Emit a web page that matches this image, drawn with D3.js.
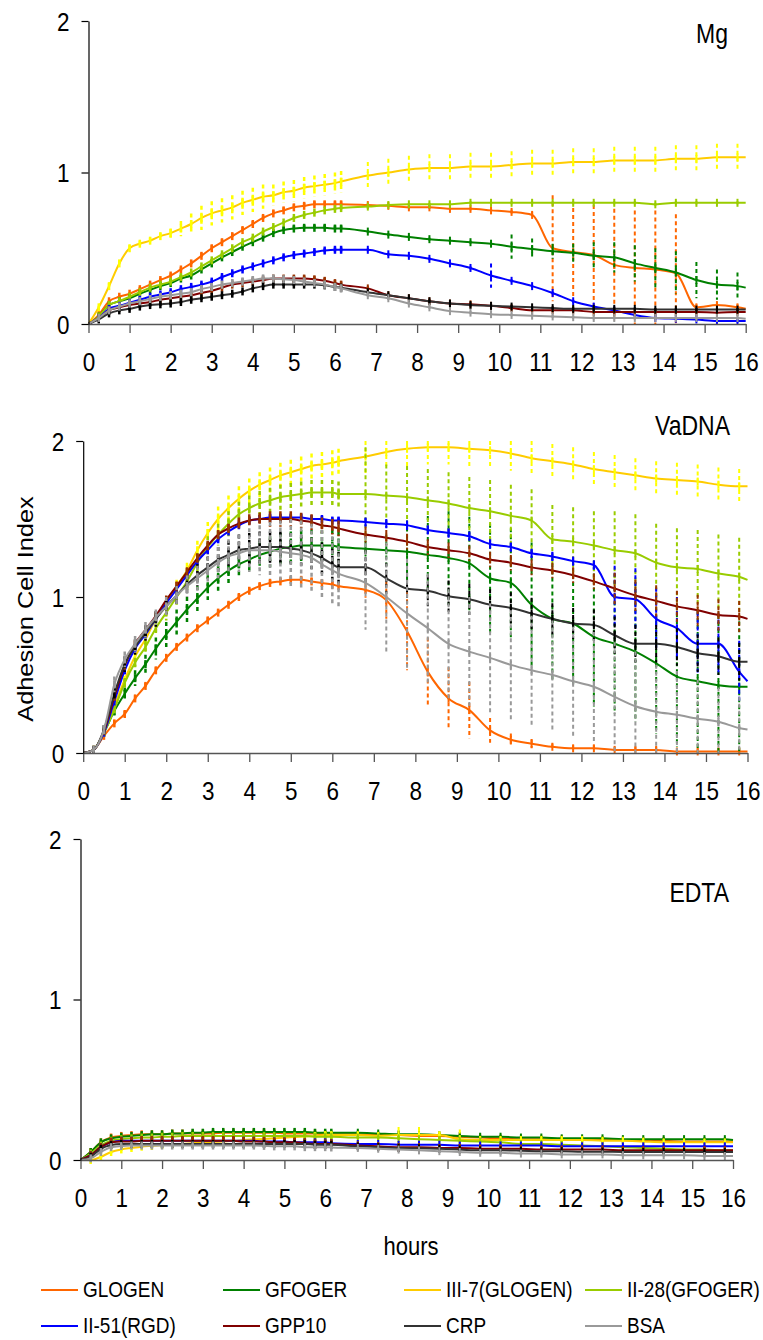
<!DOCTYPE html>
<html>
<head>
<meta charset="utf-8">
<script src="https://cdn.jsdelivr.net/npm/d3@7/dist/d3.min.js"></script>
<style>
  body { margin: 0; background: #fff; }
  text { font-family: "Liberation Sans", Arial, sans-serif; fill: #000; }
</style>
</head>
<body>
<div id="chart"></div>
<script>
// time points (hours): dense readings up to ~6 h, then every 0.5 h
var hours = [0, 0.25, 0.5, 0.75, 1, 1.25, 1.5, 1.75, 2, 2.25, 2.5, 2.75, 3, 3.25, 3.5, 3.75,
  4, 4.25, 4.5, 4.75, 5, 5.25, 5.5, 5.75, 6, 6.15,
  6.8, 7.3, 7.8, 8.3, 8.8, 9.3, 9.8, 10.3, 10.8, 11.3, 11.8, 12.3, 12.8, 13.3, 13.8, 14.3, 14.8, 15.3, 15.8, 16];

var seriesNames = ['GLOGEN', 'GFOGER', 'III-7(GLOGEN)', 'II-28(GFOGER)', 'II-51(RGD)', 'GPP10', 'CRP', 'BSA'];
var lineColors = ['#FF6600', '#008000', '#FFCC00', '#99CC00', '#0000FF', '#800000', '#333333', '#999999'];
var barColors  = ['#FF6600', '#008000', '#FFFF00', '#99CC00', '#0000FF', '#993300', '#000000', '#999999'];

var xTicks = [0, 1, 2, 3, 4, 5, 6, 7, 8, 9, 10, 11, 12, 13, 14, 15, 16];
var yTicks = [0, 1, 2];

// ---- Mg ----
var mgMeans = [
  [0,.06,.15,.18,.20,.23,.26,.29,.32,.36,.40,.45,.50,.54,.58,.62,.66,.70,.73,.75,.77,.78,.79,.79,.79,.79,
   .785,.78,.77,.77,.76,.76,.75,.74,.72,.50,.475,.455,.39,.37,.36,.335,.11,.125,.11,.10],
  [0,.05,.125,.15,.17,.20,.225,.25,.27,.30,.32,.36,.40,.44,.475,.51,.54,.57,.60,.62,.63,.635,.635,.635,.63,.63,
   .61,.59,.575,.56,.55,.54,.53,.51,.495,.48,.47,.45,.44,.40,.37,.34,.29,.26,.25,.24],
  [0,.11,.25,.40,.50,.53,.55,.58,.60,.63,.66,.70,.73,.75,.77,.80,.82,.84,.85,.87,.88,.90,.91,.92,.93,.94,
   .98,1.00,1.02,1.03,1.03,1.04,1.04,1.05,1.06,1.06,1.07,1.07,1.08,1.08,1.08,1.09,1.09,1.10,1.10,1.10],
  [0,.05,.125,.15,.18,.21,.24,.26,.28,.31,.34,.38,.42,.46,.50,.54,.57,.61,.64,.67,.70,.72,.735,.75,.76,.765,
   .775,.785,.79,.79,.79,.80,.80,.80,.80,.80,.80,.80,.80,.80,.79,.80,.80,.80,.80,.80],
  [0,.04,.10,.12,.14,.16,.18,.195,.21,.23,.245,.26,.28,.31,.335,.36,.38,.40,.42,.44,.455,.465,.475,.485,.49,.49,
   .49,.46,.45,.43,.40,.37,.32,.285,.25,.205,.15,.115,.09,.06,.04,.035,.03,.02,.02,.02],
  [0,.04,.09,.11,.125,.135,.145,.16,.17,.18,.19,.205,.22,.24,.26,.27,.28,.29,.30,.30,.30,.30,.295,.285,.27,.26,
   .235,.19,.17,.15,.135,.13,.12,.105,.09,.09,.09,.08,.08,.08,.08,.08,.08,.075,.08,.08],
  [0,.03,.07,.09,.10,.115,.125,.13,.135,.145,.16,.17,.18,.19,.20,.215,.235,.25,.26,.26,.26,.26,.26,.255,.245,.24,
   .21,.19,.17,.15,.135,.125,.12,.115,.11,.105,.10,.10,.10,.10,.095,.095,.095,.095,.095,.095],
  [0,.04,.09,.115,.135,.15,.165,.18,.19,.20,.21,.23,.245,.26,.27,.28,.29,.30,.30,.295,.29,.28,.27,.26,.245,.235,
   .19,.17,.135,.11,.085,.075,.065,.06,.055,.05,.045,.04,.04,.04,.04,.04,.04,.04,.04,.035]
];
var mgSD = [
  [0,.01,.01,.01,.01,.015,.015,.015,.015,.015,.02,.02,.02,.02,.02,.02,.02,.02,.02,.02,.02,.02,.02,.02,.02,.02,
   .01,.01,.01,.01,.01,.01,.01,.015,.02,.35,.29,.33,.37,.38,.39,.39,.02,.02,.02,0],
  [0,.01,.01,.01,.01,.015,.02,.02,.02,.02,.02,.02,.02,.02,.02,.02,.02,.02,.02,.02,.02,.02,.02,.02,.02,.02,
   .01,.01,.01,.01,.01,.01,.01,.08,.07,.05,.06,.09,.10,.12,.13,.14,.12,.10,.09,0],
  [0,.01,.02,.02,.02,.02,.02,.02,.03,.05,.07,.08,.08,.08,.08,.08,.08,.08,.07,.07,.07,.07,.07,.07,.07,.07,
   .09,.09,.09,.09,.09,.09,.09,.09,.09,.09,.09,.09,.09,.09,.09,.09,.09,.09,.09,0],
  [0,.01,.01,.01,.01,.01,.01,.01,.01,.01,.01,.01,.01,.01,.01,.01,.01,.01,.01,.01,.01,.01,.01,.01,.01,.01,
   .01,.01,.01,.01,.01,.01,.01,.01,.01,.01,.01,.01,.01,.01,.01,.01,.01,.01,.01,0],
  [0,.01,.01,.01,.015,.015,.015,.015,.015,.015,.015,.015,.015,.015,.015,.015,.015,.015,.015,.015,.015,.015,.015,.015,.015,.015,
   .01,.01,.01,.01,.01,.01,.08,.01,.01,.01,.01,.01,.01,.01,.01,.01,.01,.01,.01,0],
  [0,.01,.015,.02,.02,.02,.02,.02,.02,.02,.02,.02,.02,.02,.02,.02,.02,.02,.02,.02,.02,.02,.02,.02,.02,.02,
   .015,.015,.015,.015,.015,.015,.015,.015,.015,.015,.015,.015,.015,.015,.015,.015,.015,.015,.015,0],
  [0,.01,.01,.01,.01,.01,.01,.01,.01,.01,.01,.01,.01,.01,.01,.01,.01,.01,.01,.01,.01,.01,.01,.01,.01,.01,
   .01,.01,.01,.01,.01,.01,.01,.01,.01,.01,.01,.01,.01,.01,.01,.01,.01,.01,.01,0],
  [0,.015,.02,.025,.025,.025,.025,.025,.025,.025,.025,.025,.025,.025,.025,.025,.025,.025,.025,.025,.025,.025,.025,.025,.025,.025,
   .01,.01,.01,.01,.01,.01,.01,.01,.01,.01,.01,.01,.01,.01,.01,.01,.01,.01,.01,0]
];

// ---- VaDNA ----
var vaMeans = [
  [0,.02,.11,.19,.25,.35,.43,.53,.61,.68,.74,.80,.85,.90,.95,1.00,1.04,1.07,1.09,1.10,1.11,1.11,1.10,1.09,1.08,1.07,
   1.045,.98,.78,.52,.35,.275,.145,.085,.06,.04,.03,.03,.02,.02,.02,.01,.01,.01,.01,.01],
  [0,.02,.13,.27,.38,.48,.57,.67,.76,.84,.92,.99,1.06,1.12,1.17,1.21,1.24,1.27,1.29,1.31,1.32,1.33,1.33,1.33,1.33,1.32,
   1.31,1.30,1.29,1.27,1.25,1.215,1.12,1.09,.95,.86,.83,.745,.70,.65,.575,.49,.46,.435,.425,.425],
  [0,.02,.13,.30,.47,.62,.73,.86,.97,1.07,1.17,1.30,1.41,1.50,1.57,1.63,1.68,1.72,1.75,1.78,1.80,1.82,1.84,1.85,1.86,1.87,
   1.90,1.93,1.95,1.96,1.96,1.95,1.94,1.92,1.89,1.87,1.85,1.82,1.80,1.78,1.76,1.75,1.74,1.72,1.71,1.71],
  [0,.02,.13,.28,.45,.58,.68,.80,.90,1.00,1.10,1.22,1.32,1.40,1.47,1.53,1.57,1.60,1.62,1.64,1.65,1.66,1.67,1.67,1.67,1.66,
   1.66,1.65,1.64,1.62,1.60,1.57,1.55,1.52,1.49,1.37,1.355,1.33,1.30,1.28,1.22,1.19,1.18,1.15,1.13,1.11],
  [0,.02,.13,.33,.53,.67,.76,.86,.96,1.05,1.14,1.23,1.30,1.37,1.42,1.46,1.49,1.50,1.51,1.51,1.51,1.51,1.50,1.50,1.49,1.49,
   1.48,1.47,1.46,1.43,1.41,1.39,1.34,1.32,1.28,1.26,1.23,1.205,1.00,.985,.86,.80,.70,.70,.52,.46],
  [0,.02,.14,.36,.56,.70,.79,.88,.98,1.07,1.16,1.25,1.33,1.40,1.44,1.47,1.49,1.50,1.50,1.50,1.50,1.49,1.48,1.46,1.45,1.44,
   1.40,1.38,1.355,1.32,1.30,1.28,1.24,1.22,1.19,1.17,1.14,1.10,1.055,1.01,.975,.94,.915,.885,.875,.86],
  [0,.02,.15,.38,.57,.68,.77,.86,.94,1.01,1.08,1.14,1.19,1.24,1.27,1.30,1.31,1.32,1.32,1.32,1.31,1.30,1.28,1.25,1.21,1.19,
   1.19,1.12,1.055,1.04,1.005,.985,.95,.93,.895,.86,.83,.82,.755,.70,.70,.68,.64,.62,.585,.585],
  [0,.02,.15,.44,.60,.70,.79,.87,.94,1.01,1.07,1.12,1.17,1.22,1.26,1.28,1.30,1.30,1.30,1.29,1.28,1.27,1.25,1.21,1.17,1.15,
   1.09,1.00,.895,.80,.70,.65,.61,.565,.53,.50,.46,.425,.36,.30,.265,.245,.22,.20,.16,.15]
];
var vaSD = [
  [0,.01,.02,.02,.02,.02,.02,.02,.02,.02,.02,.02,.02,.02,.02,.02,.02,.02,.02,.02,.02,.02,.02,.02,.02,.02,
   .05,.12,.25,.22,.20,.18,.08,.04,.03,.02,.02,.02,.02,.02,.02,.02,.02,.02,.02,0],
  [0,.01,.02,.03,.04,.05,.06,.07,.08,.08,.08,.08,.08,.08,.08,.09,.09,.09,.10,.10,.10,.10,.10,.10,.10,.10,
   .05,.10,.20,.25,.30,.30,.35,.35,.40,.40,.40,.45,.45,.45,.45,.45,.45,.45,.42,0],
  [0,.01,.02,.02,.02,.03,.03,.03,.03,.04,.05,.06,.07,.08,.08,.08,.08,.08,.08,.08,.08,.08,.08,.08,.08,.08,
   .11,.11,.11,.11,.11,.11,.11,.11,.11,.11,.11,.11,.11,.11,.11,.11,.11,.11,.11,0],
  [0,.01,.02,.02,.03,.03,.04,.04,.05,.05,.06,.06,.07,.07,.08,.08,.08,.08,.08,.08,.08,.08,.08,.08,.08,.08,
   .30,.20,.20,.20,.20,.20,.20,.20,.20,.22,.22,.22,.25,.25,.25,.25,.25,.25,.25,0],
  [0,.01,.02,.02,.02,.02,.02,.02,.02,.02,.02,.02,.02,.02,.02,.02,.02,.02,.02,.02,.02,.02,.02,.02,.02,.02,
   .03,.03,.03,.03,.03,.03,.03,.03,.03,.03,.03,.03,.20,.20,.20,.20,.20,.20,.20,0],
  [0,.01,.02,.02,.02,.02,.02,.02,.03,.03,.03,.03,.03,.03,.03,.04,.04,.04,.05,.05,.05,.05,.05,.05,.05,.05,
   .05,.05,.05,.05,.05,.05,.05,.05,.05,.05,.05,.05,.10,.10,.10,.10,.10,.10,.10,0],
  [0,.01,.03,.04,.05,.05,.05,.05,.05,.06,.06,.07,.07,.08,.09,.10,.10,.10,.10,.10,.10,.10,.10,.10,.10,.10,
   .11,.10,.10,.10,.10,.10,.10,.10,.10,.10,.10,.10,.12,.12,.12,.12,.12,.12,.12,0],
  [0,.01,.03,.05,.05,.05,.05,.05,.06,.06,.07,.08,.09,.10,.11,.12,.14,.16,.18,.20,.22,.22,.22,.22,.22,.22,
   .30,.35,.35,.35,.35,.35,.35,.35,.35,.35,.35,.35,.35,.35,.30,.28,.25,.22,.20,0]
];

// ---- EDTA ----
var edMeans = [
  [0,.05,.11,.14,.15,.155,.16,.16,.16,.165,.165,.165,.165,.165,.17,.17,.17,.17,.17,.17,.165,.165,.165,.165,.16,.16,
   .16,.155,.155,.15,.15,.145,.14,.135,.13,.13,.13,.125,.125,.125,.12,.12,.115,.115,.115,.115],
  [0,.05,.11,.135,.145,.15,.155,.16,.16,.165,.165,.17,.17,.175,.175,.175,.175,.175,.175,.175,.175,.175,.175,.17,.17,.17,
   .17,.165,.16,.16,.155,.15,.145,.145,.14,.14,.135,.135,.135,.13,.13,.13,.13,.13,.13,.125],
  [0,0,.02,.05,.066,.075,.083,.088,.093,.098,.10,.105,.11,.113,.116,.12,.125,.128,.131,.135,.14,.143,.147,.15,.155,.155,
   .155,.15,.155,.155,.155,.13,.125,.125,.125,.125,.125,.125,.12,.12,.115,.11,.11,.11,.11,.11],
  [0,.04,.09,.12,.13,.135,.14,.14,.145,.145,.15,.15,.15,.15,.15,.15,.15,.15,.15,.15,.15,.15,.15,.145,.145,.145,
   .14,.14,.135,.13,.125,.12,.115,.11,.10,.10,.095,.09,.085,.08,.075,.07,.065,.065,.06,.06],
  [0,.03,.08,.11,.12,.12,.12,.12,.12,.12,.12,.12,.12,.12,.12,.12,.12,.12,.115,.115,.115,.11,.11,.11,.11,.105,
   .10,.10,.095,.095,.095,.09,.09,.09,.09,.09,.085,.085,.085,.085,.085,.085,.085,.085,.085,.085],
  [0,.03,.08,.11,.115,.115,.12,.12,.12,.12,.12,.12,.12,.12,.12,.12,.115,.115,.115,.11,.11,.11,.105,.10,.10,.10,
   .09,.085,.08,.08,.075,.075,.07,.07,.07,.065,.065,.065,.065,.06,.06,.06,.06,.06,.06,.06],
  [0,.02,.07,.093,.10,.10,.10,.10,.10,.10,.10,.10,.10,.10,.10,.10,.10,.10,.10,.10,.10,.10,.10,.095,.095,.095,
   .085,.08,.075,.073,.07,.065,.06,.06,.058,.055,.055,.052,.052,.05,.05,.05,.05,.05,.05,.05],
  [0,.01,.05,.08,.087,.09,.09,.09,.09,.09,.09,.09,.09,.09,.09,.09,.09,.09,.088,.085,.085,.085,.08,.08,.08,.078,
   .075,.07,.065,.06,.055,.05,.045,.045,.04,.04,.035,.035,.035,.03,.03,.03,.03,.025,.025,.025]
];
var edSD = [
  [0,.015,.015,.015,.015,.015,.015,.015,.015,.015,.015,.015,.015,.015,.015,.015,.015,.015,.015,.015,.015,.015,.015,.015,.015,.015,
   .015,.015,.015,.015,.015,.015,.015,.015,.015,.015,.015,.015,.015,.015,.015,.015,.015,.015,.015,0],
  [0,.01,.01,.01,.01,.01,.01,.01,.01,.01,.01,.01,.01,.01,.01,.01,.01,.01,.01,.01,.01,.01,.01,.01,.01,.01,
   .01,.01,.01,.01,.01,.01,.01,.01,.01,.01,.01,.01,.01,.01,.01,.01,.01,.01,.01,0],
  [0,0,.01,.01,.01,.01,.01,.01,.01,.01,.01,.01,.01,.01,.01,.01,.015,.015,.015,.015,.02,.02,.02,.02,.02,.02,
   .02,.02,.05,.05,.02,.06,.02,.02,.02,.02,.02,.02,.02,.02,.02,.02,.02,.02,.02,0],
  [0,.01,.01,.01,.01,.01,.01,.01,.01,.01,.01,.01,.01,.01,.01,.01,.01,.01,.01,.01,.01,.01,.01,.01,.01,.01,
   .01,.01,.01,.01,.01,.01,.01,.01,.01,.01,.01,.01,.01,.01,.01,.01,.01,.01,.01,0],
  [0,.005,.005,.005,.005,.005,.005,.005,.005,.005,.005,.005,.005,.005,.005,.005,.005,.005,.005,.005,.005,.005,.005,.005,.005,.005,
   .005,.005,.005,.005,.005,.005,.005,.005,.005,.005,.005,.005,.005,.005,.005,.005,.005,.005,.005,0],
  [0,.01,.02,.03,.03,.03,.03,.03,.03,.03,.03,.03,.03,.03,.03,.03,.03,.03,.03,.03,.03,.03,.03,.03,.03,.03,
   .025,.025,.025,.025,.025,.025,.025,.025,.025,.025,.025,.025,.025,.025,.025,.025,.025,.025,.025,0],
  [0,.01,.01,.01,.01,.01,.01,.01,.01,.01,.01,.01,.01,.01,.01,.01,.01,.01,.01,.01,.01,.01,.01,.01,.01,.01,
   .01,.01,.01,.01,.01,.01,.01,.01,.01,.01,.01,.01,.01,.01,.01,.01,.01,.01,.01,0],
  [0,.01,.01,.01,.01,.01,.01,.01,.01,.01,.01,.01,.01,.01,.01,.01,.01,.01,.01,.01,.01,.01,.01,.01,.01,.01,
   .01,.01,.01,.01,.01,.01,.01,.01,.01,.01,.01,.01,.01,.01,.01,.01,.01,.01,.01,0]
];

var W = 763, H = 1340;
var SY = 1.18; // the reference text is slightly stretched vertically

var svg = d3.select('#chart').append('svg')
  .attr('width', W)
  .attr('height', H);

svg.append('rect').attr('width', W).attr('height', H).attr('fill', '#fff');

var panels = [
  { title: 'Mg',    means: mgMeans, sds: mgSD, left: 88.5, right: 745.7, top: 21,  bottom: 324,  tx: 728, ty: 43 },
  { title: 'VaDNA', means: vaMeans, sds: vaSD, left: 83.2, right: 747.5, top: 441, bottom: 753,  tx: 730, ty: 435 },
  { title: 'EDTA',  means: edMeans, sds: edSD, left: 80.5, right: 733,   top: 839, bottom: 1160, tx: 729, ty: 902 }
];

var stretched = function(sel, x, y, sx, sy) {
  sel.attr('transform', 'translate(' + x + ',' + y + ') scale(' + sx + ',' + sy + ')');
};

panels.forEach(function(p) {
  var x = d3.scaleLinear().domain([0, 16]).range([p.left, p.right]);
  var y = d3.scaleLinear().domain([0, 2]).range([p.bottom, p.top]);
  var g = svg.append('g');
  var clampY = function(v) { return y(Math.max(0, Math.min(2, v))); };

  var line = d3.line()
    .x(function(d, i) { return x(hours[i]); })
    .y(function(d) { return y(d); })
    .curve(d3.curveMonotoneX);

  p.means.forEach(function(vals, s) {
    var sds = p.sds[s];
    var gs = g.append('g');

    gs.append('path')
      .datum(vals)
      .attr('d', line)
      .attr('fill', 'none')
      .attr('stroke', lineColors[s])
      .attr('stroke-width', 2);

    var pts = vals.map(function(v, i) { return { t: hours[i], m: v, sd: sds[i] || 0 }; })
      .filter(function(d) { return d.t > 0 && d.t < 16; });

    gs.selectAll('line.bar').data(pts).enter().append('line')
      .attr('class', 'bar')
      .attr('x1', function(d) { return x(d.t); })
      .attr('x2', function(d) { return x(d.t); })
      .attr('y1', function(d) { return clampY(d.m + d.sd); })
      .attr('y2', function(d) { return clampY(d.m - d.sd); })
      .attr('stroke', barColors[s])
      .attr('stroke-width', function(d) { return d.t < 6.5 ? 2.5 : 2; })
      .attr('stroke-dasharray', '4,3');

    gs.selectAll('line.mark').data(pts).enter().append('line')
      .attr('class', 'mark')
      .attr('x1', function(d) { return x(d.t); })
      .attr('x2', function(d) { return x(d.t); })
      .attr('y1', function(d) { return y(d.m) - 4; })
      .attr('y2', function(d) { return y(d.m) + 4; })
      .attr('stroke', barColors[s])
      .attr('stroke-width', function(d) { return d.t < 6.5 ? 2.5 : 2; });
  });

  // axes
  var xAxis = g.append('g')
    .attr('transform', 'translate(0,' + p.bottom + ')')
    .call(d3.axisBottom(x).tickValues(xTicks).tickSize(9).tickSizeOuter(0).tickFormat(d3.format('d')));
  xAxis.select('.domain').attr('stroke', '#555').attr('stroke-width', 1.5);
  xAxis.selectAll('.tick line').attr('stroke', '#555').attr('stroke-width', 1.3);
  xAxis.selectAll('.tick text')
    .attr('y', null).attr('dy', null)
    .style('font-size', '22.5px')
    .style('font-family', '"Liberation Sans", Arial, sans-serif')
    .attr('fill', '#000')
    .each(function() { stretched(d3.select(this), 0, 47, 1, SY); });

  var yAxis = g.append('g')
    .attr('transform', 'translate(' + p.left + ',0)')
    .call(d3.axisLeft(y).tickValues(yTicks).tickSize(7).tickSizeOuter(0).tickFormat(d3.format('d')));
  yAxis.select('.domain').attr('stroke', '#000').attr('stroke-width', 1.2);
  yAxis.selectAll('.tick line').attr('stroke', '#000').attr('stroke-width', 1.2);
  yAxis.selectAll('.tick text')
    .attr('x', null).attr('dy', null)
    .style('font-size', '22.5px')
    .style('font-family', '"Liberation Sans", Arial, sans-serif')
    .attr('fill', '#000')
    .attr('text-anchor', 'end')
    .each(function() { stretched(d3.select(this), -19, 9, 1, SY); });

  g.append('text')
    .attr('text-anchor', 'end')
    .style('font-size', '23px')
    .text(p.title)
    .call(stretched, p.tx, p.ty, 1, SY);
});

// axis titles
svg.append('text')
  .attr('text-anchor', 'middle')
  .style('font-size', '21.5px')
  .text('Adhesion Cell Index')
  .attr('transform', 'translate(33,609) rotate(-90) scale(' + SY + ',1)');

svg.append('text')
  .attr('text-anchor', 'middle')
  .style('font-size', '22px')
  .text('hours')
  .call(stretched, 411, 1255, 1, SY);

// legend
var legCols = [41, 223, 404, 585];
var legRows = [1290, 1326];
var legend = svg.append('g');
seriesNames.forEach(function(name, i) {
  var lx = legCols[i % 4], ly = legRows[Math.floor(i / 4)];
  legend.append('line')
    .attr('x1', lx).attr('x2', lx + 37)
    .attr('y1', ly).attr('y2', ly)
    .attr('stroke', lineColors[i])
    .attr('stroke-width', 2);
  legend.append('text')
    .style('font-size', '19px')
    .text(name)
    .call(stretched, lx + 42, ly + 7, 1, 1.2);
});
</script>
</body>
</html>
